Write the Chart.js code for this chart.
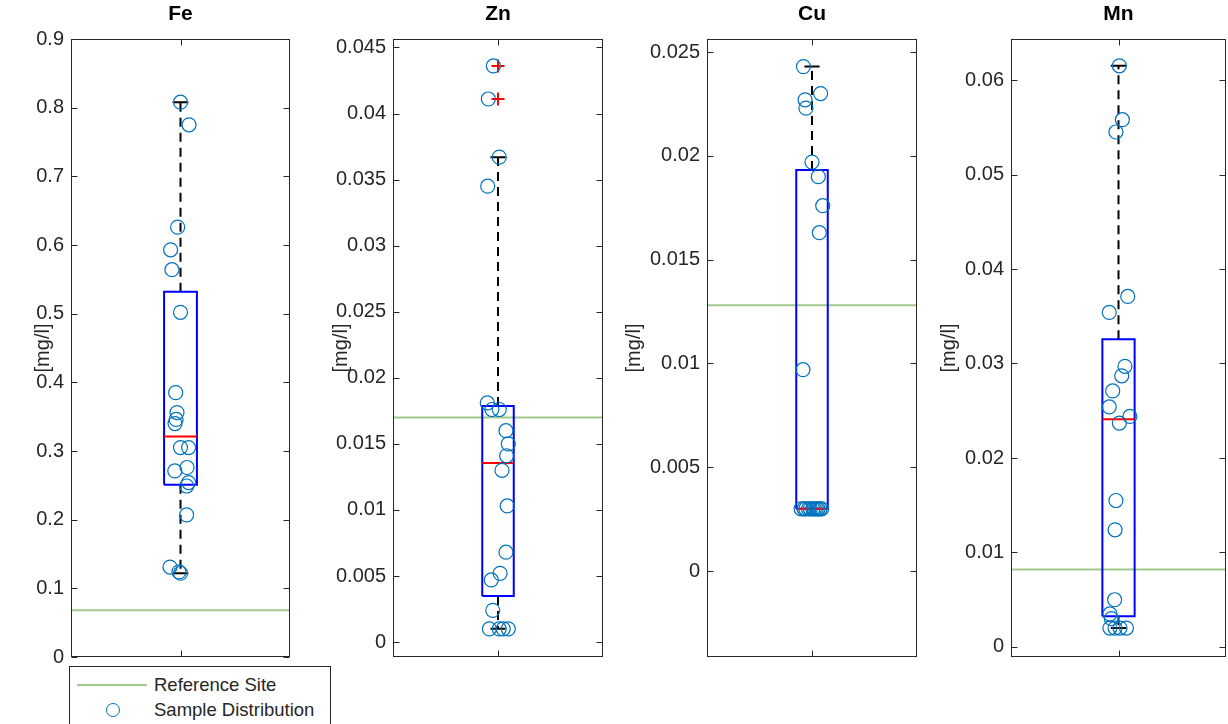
<!DOCTYPE html>
<html><head><meta charset="utf-8">
<script src="https://cdn.jsdelivr.net/npm/chart.js@4.4.1/dist/chart.umd.min.js"></script>
<style>
html,body{margin:0;padding:0;background:#fff;width:1228px;height:724px;overflow:hidden;font-family:"Liberation Sans",Arial,sans-serif;}
.panel{position:absolute;top:0;height:724px;}
#legend{position:absolute;left:69px;top:666px;width:262px;height:80px;border:1px solid #262626;background:#fff;box-sizing:border-box;}
#legend .ln{position:absolute;left:7px;top:17px;width:70px;height:2px;background:#a3c98a;}
#legend .ci{position:absolute;left:36px;top:36px;width:14px;height:14px;border:1.2px solid #0072BD;border-radius:50%;box-sizing:border-box;}
#legend .tx{position:absolute;left:84px;font-size:18.5px;color:#262626;line-height:20px;white-space:nowrap;}
</style></head><body>
<div class="panel" id="p0"><canvas id="c0"></canvas></div>
<div class="panel" id="p1"><canvas id="c1"></canvas></div>
<div class="panel" id="p2"><canvas id="c2"></canvas></div>
<div class="panel" id="p3"><canvas id="c3"></canvas></div>
<div id="legend">
  <div class="ln"></div><span class="tx" style="top:8px">Reference Site</span>
  <div class="ci"></div><span class="tx" style="top:33px">Sample Distribution</span>
</div>
<script>
// ---------- data ----------
const elements = ['Fe', 'Zn', 'Cu', 'Mn'];
const yUnit = '[mg/l]';
const referenceSite = [0.068, 0.0170, 0.0128, 0.0082];

const feSamples = [0.808, 0.775, 0.626, 0.593, 0.564, 0.502, 0.385, 0.356, 0.346, 0.340, 0.305, 0.305, 0.271, 0.276, 0.254, 0.249, 0.207, 0.131, 0.124, 0.122];
const feJitter  = [0.000, 0.039, -0.013, -0.045, -0.039, 0.000, -0.022, -0.016, -0.020, -0.025, 0.000, 0.037, -0.026, 0.030, 0.037, 0.028, 0.028, -0.048, -0.007, 0.000];

const znSamples = [0.0436, 0.0411, 0.0367, 0.0345, 0.0181, 0.0176, 0.0176, 0.0160, 0.0150, 0.0141, 0.0130, 0.0103, 0.0068, 0.0052, 0.0047, 0.0024, 0.0010, 0.0010, 0.0010, 0.0010];
const znJitter  = [-0.022, -0.046, 0.006, -0.049, -0.051, -0.029, 0.006, 0.038, 0.049, 0.041, 0.019, 0.044, 0.038, 0.010, -0.032, -0.025, -0.041, 0.006, 0.025, 0.049];

const cuSamples = [0.0243, 0.0230, 0.0227, 0.0223, 0.0197, 0.0190, 0.0176, 0.0163, 0.0097, 0.003, 0.003, 0.003, 0.003, 0.003, 0.003, 0.003, 0.003, 0.003, 0.003, 0.003];
const cuJitter  = [-0.041, 0.041, -0.033, -0.029, 0.000, 0.030, 0.051, 0.035, -0.043, -0.052, -0.038, -0.030, -0.017, -0.008, 0.004, 0.012, 0.021, 0.029, 0.038, 0.046];

const mnSamples = [0.0615, 0.0558, 0.0545, 0.0371, 0.0354, 0.0297, 0.0287, 0.0271, 0.0254, 0.0244, 0.0237, 0.0155, 0.0124, 0.0050, 0.0035, 0.0030, 0.0020, 0.0020, 0.0020, 0.0020];
const mnJitter  = [0.004, 0.018, -0.012, 0.043, -0.043, 0.030, 0.015, -0.027, -0.043, 0.053, 0.004, -0.012, -0.016, -0.018, -0.040, -0.033, -0.040, -0.016, 0.007, 0.037];

const samples = [feSamples, znSamples, cuSamples, mnSamples];
const jitters = [feJitter, znJitter, cuJitter, mnJitter];

// box-plot statistics
const boxQ1       = [0.251, 0.00348, 0.0030, 0.00326];
const boxMedian   = [0.321, 0.01355, 0.0030, 0.0241];
const boxQ3       = [0.532, 0.01786, 0.01932, 0.03256];
const whiskerLow  = [0.122, 0.0010, 0.0030, 0.0020];
const whiskerHigh = [0.808, 0.0367, 0.0243, 0.0615];
const outliers    = [[], [0.0436, 0.0411], [], []];

// axes
const yMin = [0, -0.00113, -0.00414, -0.00106];
const yMax = [0.9, 0.04564, 0.02563, 0.06434];
const feTicks = [0, 0.1, 0.2, 0.3, 0.4, 0.5, 0.6, 0.7, 0.8, 0.9];
const znTicks = [0, 0.005, 0.01, 0.015, 0.02, 0.025, 0.03, 0.035, 0.04, 0.045];
const cuTicks = [0, 0.005, 0.01, 0.015, 0.02, 0.025];
const mnTicks = [0, 0.01, 0.02, 0.03, 0.04, 0.05, 0.06];
const yTicks = [feTicks, znTicks, cuTicks, mnTicks];
const xTicks = [1];

// ---------- layout / style ----------
const panels = [
  {plotLeft: 71,   plotRight: 290,  labelX: 43},
  {plotLeft: 393,  plotRight: 603,  labelX: 341},
  {plotLeft: 707,  plotRight: 917,  labelX: 634},
  {plotLeft: 1011, plotRight: 1226, labelX: 949}
];
const PLOT_TOP = 39, PLOT_BOTTOM = 657, PAGE_H = 724;
const BOX_HALF = 0.075, CAP_HALF = 0.036;
const AXIS_COLOR = '#262626';
const TICK_FONT = 20;

const matlabFrame = {
  id: 'matlabFrame',
  afterDraw(chart) {
    const {ctx, chartArea: a} = chart;
    const x = chart.scales.x, y = chart.scales.y;
    const L = Math.round(a.left) + 0.5, R = Math.round(a.right) - 0.5;
    const T = Math.round(a.top) + 0.5, B = Math.round(a.bottom) - 0.5;
    ctx.save();
    ctx.strokeStyle = AXIS_COLOR;
    ctx.lineWidth = 1;
    ctx.strokeRect(L, T, R - L, B - T);
    const tl = 6;
    ctx.beginPath();
    y.ticks.forEach(t => {
      const py = Math.round(y.getPixelForValue(t.value)) + 0.5;
      ctx.moveTo(L, py); ctx.lineTo(L + tl, py);
      ctx.moveTo(R, py); ctx.lineTo(R - tl, py);
    });
    xTicks.forEach(v => {
      const px = Math.round(x.getPixelForValue(v)) + 0.5;
      ctx.moveTo(px, B); ctx.lineTo(px, B - tl);
      ctx.moveTo(px, T); ctx.lineTo(px, T + tl);
    });
    ctx.stroke();
    ctx.restore();
  }
};

function lineDs(label, data, color, width, order, dash) {
  return {
    type: 'line', label, data, showLine: true, borderColor: color, borderWidth: width,
    pointRadius: 0, pointHoverRadius: 0, fill: false, tension: 0, spanGaps: false,
    borderDash: dash || [], order
  };
}

function makeChart(i) {
  const p = panels[i];
  const scaleLeft = p.labelX - 12;
  const axisW = p.plotLeft - scaleLeft;
  const div = document.getElementById('p' + i);
  div.style.left = scaleLeft + 'px';
  div.style.width = (p.plotRight - scaleLeft + 2) + 'px';

  const q1 = boxQ1[i], q3 = boxQ3[i], md = boxMedian[i], lo = whiskerLow[i], hi = whiskerHigh[i];
  const datasets = [
    {
      type: 'scatter', label: 'Sample Distribution',
      data: samples[i].map((v, k) => ({x: 1 + jitters[i][k], y: v})),
      pointStyle: 'circle', pointRadius: 7, pointHoverRadius: 7,
      borderColor: '#0072BD', borderWidth: 1.2, backgroundColor: 'rgba(0,0,0,0)', order: 0
    },
    {
      type: 'scatter', label: 'Outliers',
      data: outliers[i].map(v => ({x: 1, y: v})),
      pointStyle: 'cross', pointRadius: 6.5, pointHoverRadius: 6.5,
      borderColor: '#ff0000', borderWidth: 2, order: 1
    },
    lineDs('Median', [{x: 1 - BOX_HALF, y: md}, {x: 1 + BOX_HALF, y: md}], '#ff0000', 2, 2),
    lineDs('Box', [{x: 1 - BOX_HALF, y: q1}, {x: 1 + BOX_HALF, y: q1}, {x: 1 + BOX_HALF, y: q3},
                   {x: 1 - BOX_HALF, y: q3}, {x: 1 - BOX_HALF, y: q1}], '#0000ff', 2, 3),
    lineDs('Whiskers', [{x: 1, y: q3}, {x: 1, y: hi}, {x: 1, y: NaN}, {x: 1, y: q1}, {x: 1, y: lo}],
           '#000000', 2, 4, [9, 6]),
    lineDs('Caps', [{x: 1 - CAP_HALF, y: hi}, {x: 1 + CAP_HALF, y: hi}, {x: 1, y: NaN},
                    {x: 1 - CAP_HALF, y: lo}, {x: 1 + CAP_HALF, y: lo}], '#000000', 2, 4),
    lineDs('Reference Site', [{x: 0.5, y: referenceSite[i]}, {x: 1.5, y: referenceSite[i]}], '#a3c98a', 2, 6)
  ];

  return new Chart(document.getElementById('c' + i), {
    type: 'scatter',
    data: {datasets},
    options: {
      responsive: true, maintainAspectRatio: false, animation: false,
      events: [],
      layout: {autoPadding: false, padding: {top: 0, left: 0, right: 2, bottom: PAGE_H - PLOT_BOTTOM}},
      plugins: {
        legend: {display: false},
        tooltip: {enabled: false},
        title: {
          display: true, text: elements[i], fullSize: false, color: '#000',
          font: {family: '"Liberation Sans", Arial, sans-serif', size: 21, weight: 'bold', lineHeight: 1.2},
          padding: {top: 2, bottom: PLOT_TOP - 2 - 25.2}
        }
      },
      scales: {
        x: {
          type: 'linear', min: 0.5, max: 1.5,
          ticks: {display: false}, grid: {display: false, drawTicks: false}, border: {display: false},
          afterFit: s => { s.height = 0; s.paddingLeft = 0; s.paddingRight = 0; }
        },
        y: {
          type: 'linear', min: yMin[i], max: yMax[i],
          afterBuildTicks: s => { s.ticks = yTicks[i].map(v => ({value: v})); },
          afterFit: s => { s.width = axisW; s.paddingTop = 0; s.paddingBottom = 0; },
          ticks: {
            autoSkip: false, padding: 7, color: AXIS_COLOR,
            font: {family: '"Liberation Sans", Arial, sans-serif', size: TICK_FONT},
            callback: v => String(v)
          },
          grid: {display: false, drawTicks: false}, border: {display: false},
          title: {
            display: true, text: yUnit, color: AXIS_COLOR, padding: {top: 0, bottom: 0},
            font: {family: '"Liberation Sans", Arial, sans-serif', size: TICK_FONT, lineHeight: 1.2}
          }
        }
      }
    },
    plugins: [matlabFrame]
  });
}

for (let i = 0; i < 4; i++) makeChart(i);
</script>
</body></html>
